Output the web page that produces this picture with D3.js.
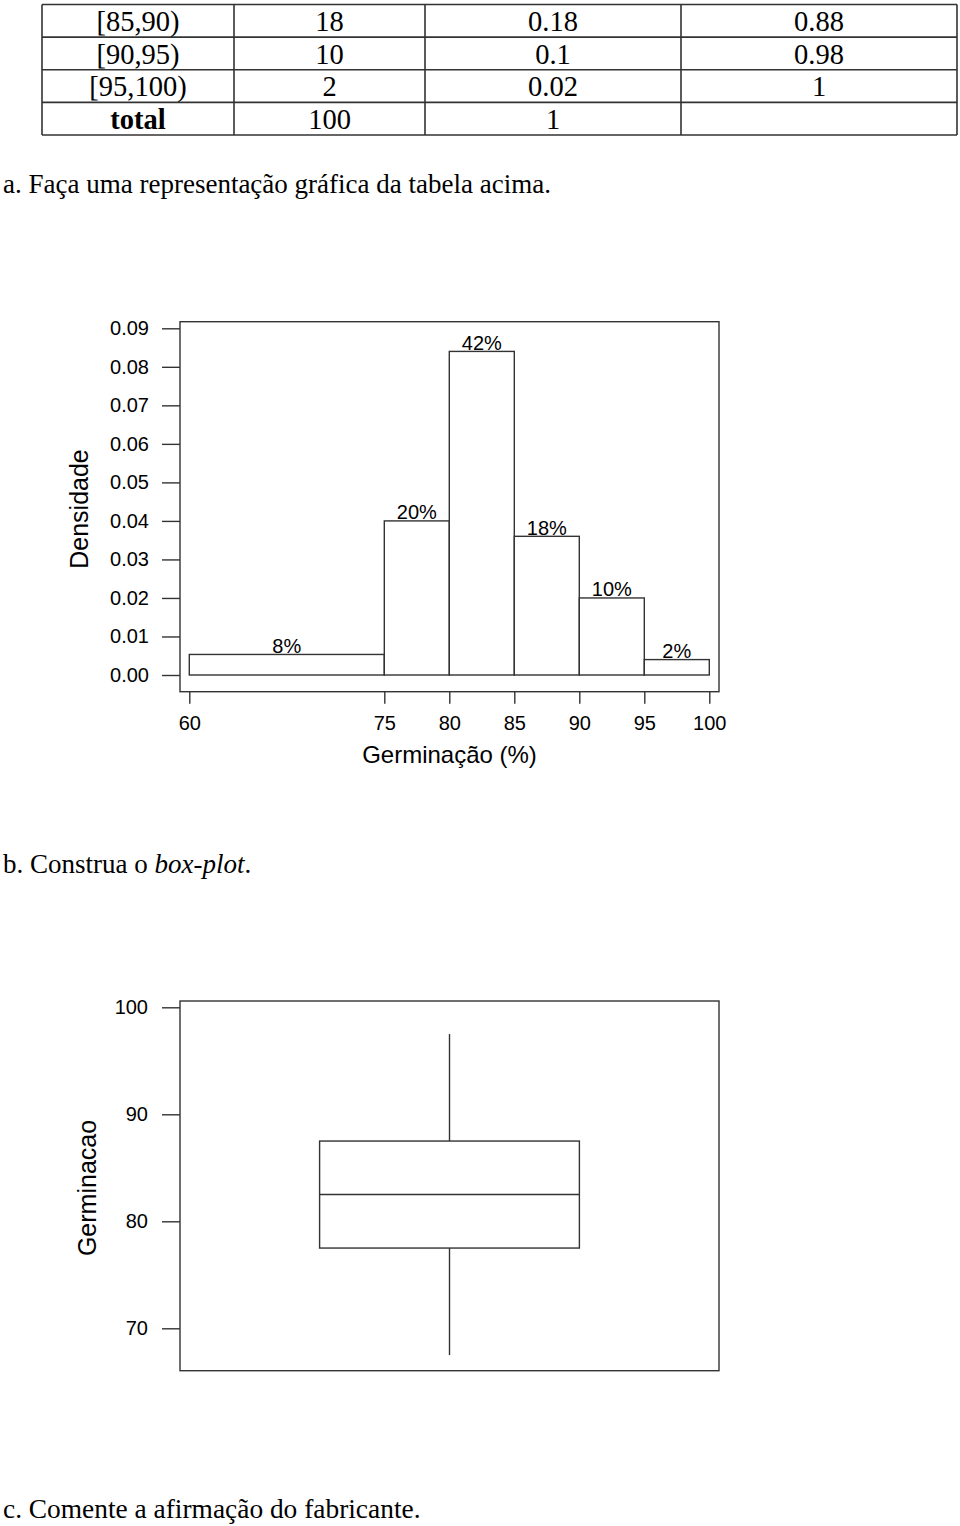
<!DOCTYPE html>
<html>
<head>
<meta charset="utf-8">
<script src="https://cdn.jsdelivr.net/npm/d3@7"></script>
<style>
  html, body { margin: 0; padding: 0; background: #fff; }
  svg { display: block; }
</style>
</head>
<body>
<svg id="page" width="960" height="1526"></svg>
<script>
// ---------- DATA ----------
// table (bottom part of the frequency table)
const tableClasses = ["[85,90)", "[90,95)", "[95,100)", "total"];
const tableFreq = ["18", "10", "2", "100"];
const tableRelFreq = ["0.18", "0.1", "0.02", "1"];
const tableCumFreq = ["0.88", "0.98", "1", ""];

// histogram
const binEdges = [60, 75, 80, 85, 90, 95, 100];
const binPercent = [8, 20, 42, 18, 10, 2];
const histXTicks = [60, 75, 80, 85, 90, 95, 100];
const histYTicks = [0, 0.01, 0.02, 0.03, 0.04, 0.05, 0.06, 0.07, 0.08, 0.09];

// box plot (Germinação)
const boxStats = { min: 67.5, q1: 77.5, median: 82.5, q3: 87.5, max: 97.5 };
const boxYTicks = [70, 80, 90, 100];

// texts
const textA = "a. Faça uma representação gráfica da tabela acima.";
const textBPlain = "b. Construa o ";
const textBItalic = "box-plot";
const textC = "c. Comente a afirmação do fabricante.";

// ---------- DRAW ----------
const svg = d3.select("#page");
const serif = "'Liberation Serif', 'Times New Roman', serif";
const sans = "'Liberation Sans', Arial, Helvetica, sans-serif";
const lineCol = "#333";

// ---- table ----
const colEdges = [42, 234, 425, 681, 957];
const rowY = d3.scaleBand().domain(d3.range(tableClasses.length)).range([4.5, 135]);
const tbl = svg.append("g");
const rowsData = tableClasses.map((c, i) => [c, tableFreq[i], tableRelFreq[i], tableCumFreq[i]]);
[...rowY.domain().map(i => rowY(i)), rowY.range()[1]].forEach(y => {
  tbl.append("line").attr("x1", colEdges[0]).attr("x2", colEdges[4])
    .attr("y1", y).attr("y2", y).attr("stroke", lineCol).attr("stroke-width", 1.6);
});
colEdges.forEach(x => {
  tbl.append("line").attr("x1", x).attr("x2", x)
    .attr("y1", rowY.range()[0]).attr("y2", rowY.range()[1])
    .attr("stroke", lineCol).attr("stroke-width", 1.6);
});
rowsData.forEach((row, i) => {
  row.forEach((txt, j) => {
    tbl.append("text")
      .attr("x", (colEdges[j] + colEdges[j + 1]) / 2)
      .attr("y", rowY(i) + 26.5)
      .attr("text-anchor", "middle")
      .attr("font-family", serif)
      .attr("font-size", 28.5)
      .attr("font-weight", (i === tableClasses.length - 1 && j === 0) ? "bold" : "normal")
      .attr("fill", "#000")
      .text(txt);
  });
});

// ---- paragraph a ----
svg.append("text").attr("x", 3).attr("y", 193)
  .attr("font-family", serif).attr("font-size", 27).attr("fill", "#000").text(textA);

// ---- histogram ----
const hx = d3.scaleLinear().domain([60, 100]).range([189.3, 709.3]);
const hy = d3.scaleLinear().domain([0, 0.09]).range([675, 328.3]);
const hFrame = { x0: 180, x1: 719, y0: 321.7, y1: 691.7 };
const hist = svg.append("g");

hist.append("rect")
  .attr("x", hFrame.x0).attr("y", hFrame.y0)
  .attr("width", hFrame.x1 - hFrame.x0).attr("height", hFrame.y1 - hFrame.y0)
  .attr("fill", "none").attr("stroke", lineCol).attr("stroke-width", 1.4);

const bins = binPercent.map((p, i) => ({
  x0: binEdges[i], x1: binEdges[i + 1], pct: p,
  density: p / 100 / (binEdges[i + 1] - binEdges[i])
}));

hist.selectAll("rect.bar").data(bins).join("rect")
  .attr("class", "bar")
  .attr("x", d => hx(d.x0)).attr("width", d => hx(d.x1) - hx(d.x0))
  .attr("y", d => hy(d.density)).attr("height", d => hy(0) - hy(d.density))
  .attr("fill", "#fff").attr("stroke", lineCol).attr("stroke-width", 1.4);

hist.selectAll("text.pct").data(bins).join("text")
  .attr("class", "pct")
  .attr("x", d => hx((d.x0 + d.x1) / 2))
  .attr("y", d => hy(d.density) - 1.5)
  .attr("text-anchor", "middle")
  .attr("font-family", sans).attr("font-size", 20).attr("fill", "#000")
  .text(d => d.pct + "%");

// y axis
const hyAxis = d3.axisLeft(hy).tickValues(histYTicks).tickSize(18).tickPadding(13)
  .tickFormat(d3.format(".2f"));
const gy = hist.append("g").attr("transform", `translate(${hFrame.x0},0)`).call(hyAxis);
gy.select(".domain").remove();
gy.selectAll(".tick line").attr("stroke", lineCol).attr("stroke-width", 1.4);
gy.selectAll(".tick text").attr("font-family", sans).attr("font-size", 20).attr("fill", "#000");

// x axis
const hxAxis = d3.axisBottom(hx).tickValues(histXTicks).tickSize(12).tickPadding(12)
  .tickFormat(d3.format("d"));
const gx = hist.append("g").attr("transform", `translate(0,${hFrame.y1})`).call(hxAxis);
gx.select(".domain").remove();
gx.selectAll(".tick line").attr("stroke", lineCol).attr("stroke-width", 1.4);
gx.selectAll(".tick text").attr("font-family", sans).attr("font-size", 20).attr("fill", "#000");

hist.append("text")
  .attr("x", (hFrame.x0 + hFrame.x1) / 2).attr("y", 763)
  .attr("text-anchor", "middle").attr("font-family", sans).attr("font-size", 24)
  .attr("fill", "#000").text("Germinação (%)");

hist.append("text")
  .attr("transform", `translate(88,509) rotate(-90)`)
  .attr("text-anchor", "middle").attr("font-family", sans).attr("font-size", 25)
  .attr("fill", "#000").text("Densidade");

// ---- paragraph b ----
const tb = svg.append("text").attr("x", 3).attr("y", 873)
  .attr("font-family", serif).attr("font-size", 27).attr("fill", "#000");
tb.append("tspan").text(textBPlain);
tb.append("tspan").attr("font-style", "italic").text(textBItalic);
tb.append("tspan").text(".");

// ---- box plot ----
const bFrame = { x0: 180, x1: 719, y0: 1001, y1: 1370.7 };
const by = d3.scaleLinear().domain([70, 100]).range([1328.3, 1007.3]);
const bx = d3.scalePoint().domain(["Germinacao"]).range([bFrame.x0, bFrame.x1]).padding(0.5);
const boxW = 0.482 * (bFrame.x1 - bFrame.x0);
const cx = bx("Germinacao");
const bp = svg.append("g");

bp.append("rect")
  .attr("x", bFrame.x0).attr("y", bFrame.y0)
  .attr("width", bFrame.x1 - bFrame.x0).attr("height", bFrame.y1 - bFrame.y0)
  .attr("fill", "none").attr("stroke", lineCol).attr("stroke-width", 1.4);

bp.append("line").attr("x1", cx).attr("x2", cx)
  .attr("y1", by(boxStats.max)).attr("y2", by(boxStats.q3))
  .attr("stroke", lineCol).attr("stroke-width", 1.4);
bp.append("line").attr("x1", cx).attr("x2", cx)
  .attr("y1", by(boxStats.q1)).attr("y2", by(boxStats.min))
  .attr("stroke", lineCol).attr("stroke-width", 1.4);
bp.append("rect")
  .attr("x", cx - boxW / 2).attr("width", boxW)
  .attr("y", by(boxStats.q3)).attr("height", by(boxStats.q1) - by(boxStats.q3))
  .attr("fill", "none").attr("stroke", lineCol).attr("stroke-width", 1.4);
bp.append("line").attr("x1", cx - boxW / 2).attr("x2", cx + boxW / 2)
  .attr("y1", by(boxStats.median)).attr("y2", by(boxStats.median))
  .attr("stroke", lineCol).attr("stroke-width", 1.4);

const byAxis = d3.axisLeft(by).tickValues(boxYTicks).tickSize(18).tickPadding(14)
  .tickFormat(d3.format("d"));
const gby = bp.append("g").attr("transform", `translate(${bFrame.x0},0)`).call(byAxis);
gby.select(".domain").remove();
gby.selectAll(".tick line").attr("stroke", lineCol).attr("stroke-width", 1.4);
gby.selectAll(".tick text").attr("font-family", sans).attr("font-size", 20).attr("fill", "#000");

bp.append("text")
  .attr("transform", `translate(96,1188) rotate(-90)`)
  .attr("text-anchor", "middle").attr("font-family", sans).attr("font-size", 25)
  .attr("fill", "#000").text("Germinacao");

// ---- paragraph c ----
svg.append("text").attr("x", 3).attr("y", 1518)
  .attr("font-family", serif).attr("font-size", 27.4).attr("fill", "#000").text(textC);
</script>
</body>
</html>
